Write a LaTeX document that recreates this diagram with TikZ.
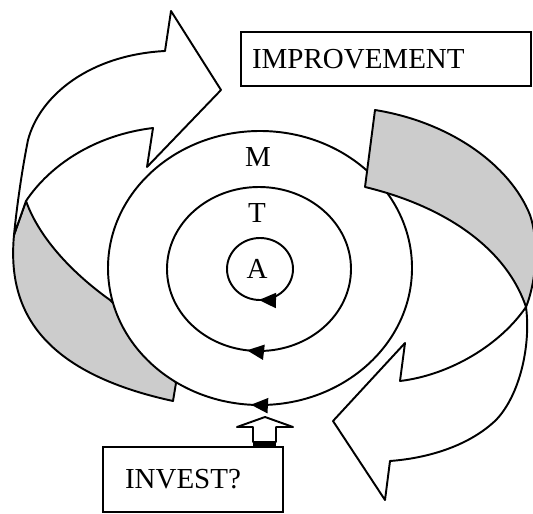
\documentclass[tikz,border=0pt]{standalone}
\usepackage{fontspec}
\setmainfont{Liberation Serif}
\usetikzlibrary{arrows.meta,decorations.markings}

\tikzstyle{ring} = [line width=1.1pt, fill=white]
\tikzstyle{band} = [line width=1.1pt, fill=black!20, line join=round]
\tikzstyle{ribbon} = [line width=1.1pt, fill=white, line join=round]
\tikzstyle{tag} = [draw, line width=1.1pt, minimum height=1.08cm, align=left, font=\fontsize{16.5}{18}\selectfont]
\tikzstyle{letter} = [font=\fontsize{16.5}{18}\selectfont]
\tikzset{turn/.style={postaction={decorate, decoration={markings,
    mark=at position #1 with {\arrow{Triangle[length=3.4mm,width=3mm]}}}}}}

\begin{document}
\begin{tikzpicture}[x=0.02cm, y=-0.02cm]
\useasboundingbox (0,0) rectangle (533,513);
%begin left ribbon
\filldraw[band] (26,201) -- (14,235) .. controls (8,300) and (30,370) .. (173,401)
    -- (176,383) -- (150,340) -- (110,300) .. controls (75,275) and (40,240) .. (26,201) -- cycle;
\filldraw[ribbon] (26,201) .. controls (50,165) and (95,135) .. (153,128)
    -- (147,167) -- (221,90) -- (171,11) -- (165,51)
    .. controls (90,55) and (40,95) .. (28,140) .. controls (22,170) and (17,205) .. (14,235) -- cycle;
%end left ribbon
%begin rings
\draw[ring, turn=0.26] (260,268) ellipse [x radius=152, y radius=137];
\draw[ring, turn=0.272] (259,269) ellipse [x radius=92, y radius=82];
\draw[ring, turn=0.255] (260,269) ellipse [x radius=33, y radius=31];
\node[letter] (m) at (258,157) {M};
\node[letter] (t) at (257,213) {T};
\node[letter] (a) at (257,269) {A};
%end rings
%begin right ribbon
\filldraw[band] (375,110) -- (365,187) .. controls (440,205) and (505,245) .. (526,307)
    .. controls (535,285) and (540,245) .. (530,215) .. controls (510,165) and (450,122) .. (375,110) -- cycle;
\filldraw[ribbon] (526,307) .. controls (531,345) and (520,395) .. (496,420)
    .. controls (470,445) and (430,458) .. (390,461)
    -- (385,500) -- (333,421) -- (405,343) -- (400,381)
    .. controls (450,375) and (500,345) .. (526,307) -- cycle;
%end right ribbon
%begin boxes
\node[tag, text width=5.36cm, inner xsep=0.22cm] (improve) at (386,59) {IMPROVEMENT};
\node[tag, text width=2.72cm, inner xsep=0.44cm, minimum height=1.3cm] (invest) at (193,479.5) {INVEST?};
%end boxes
%begin up arrow
\coordinate (foot) at (264.5,447);
\filldraw[ribbon, shift={(foot)}] (-11.5,-5) -- (-11.5,-20) -- (-27.5,-20) -- (0.5,-30) -- (28.5,-20)
    -- (11.5,-20) -- (11.5,-5) -- cycle;
\fill[shift={(foot)}] (-11.5,-5) rectangle (11.5,0);
%end up arrow
\end{tikzpicture}
\end{document}
